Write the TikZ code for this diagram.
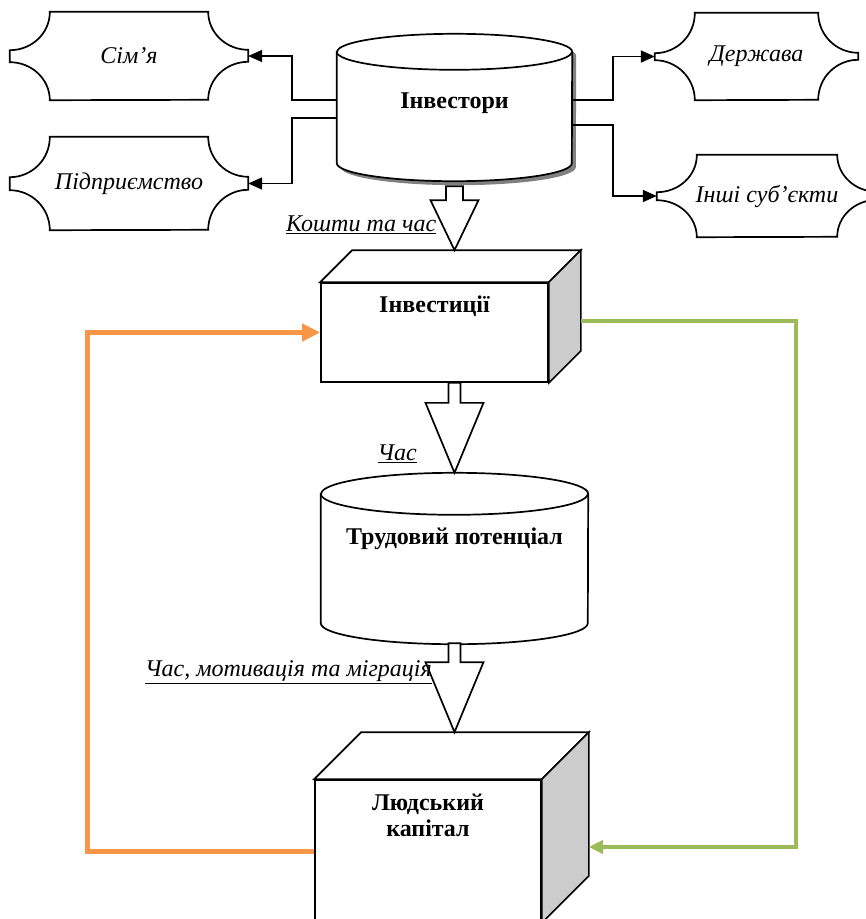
\documentclass[tikz,border=0pt]{standalone}
\usepackage{fontspec}
\setmainfont{Liberation Serif}
\usetikzlibrary{arrows.meta, calc, backgrounds}

\definecolor{loopOrange}{HTML}{F79646}
\definecolor{loopGreen}{HTML}{9BBB59}
\definecolor{sideGray}{HTML}{CCCCCC}
\definecolor{shadowGray}{HTML}{808080}

\newcommand{\bigfont}{\fontsize{24}{26}\selectfont}
% text set at the top of a shape: height, width, baseline below top, text
\newcommand{\topbox}[4]{\parbox[t][#1pt][t]{#2pt}{\centering\rule{0pt}{#3pt}#4}}
% outline of a drum round node #1 (x radius, y radius)
\newcommand{\drumpath}[3]{(#1.north west) -- (#1.south west)
  arc[start angle=180, end angle=360, x radius=#2, y radius=#3] -- (#1.north east)
  arc[start angle=0, end angle=180, x radius=#2, y radius=#3] -- cycle}
\newcommand{\drum}[3]{%
  \begin{pgfonlayer}{background}
    \draw[shape line, fill=white] \drumpath{#1}{#2}{#3};
    \draw[shape line] (#1.north west) arc[start angle=180, end angle=360, x radius=#2, y radius=#3];
  \end{pgfonlayer}}
% top and side of a box behind front face #1, depth #2
\newcommand{\cubeback}[2]{%
  \draw[shape line, fill=white] (#1.north west) -- ++(#2,#2) -- ($(#1.north east)+(#2,#2)$) -- (#1.north east) -- cycle;
  \draw[shape line, fill=sideGray] (#1.north east) -- ++(#2,#2) -- ($(#1.south east)+(#2,#2)$) -- (#1.south east) -- cycle;}
% plaque outline round node #1: corner height, notch
\newcommand{\plaque}[3]{%
  \draw[shape line] ($(#1.north west)+(40,0)$) -- ($(#1.north east)+(-40,0)$)
    arc[start angle=180, end angle=270, x radius=40, y radius=#2] -- ++(0,-#3)
    arc[start angle=90, end angle=180, x radius=40, y radius=#2]
    -- ($(#1.south west)+(40,0)$)
    arc[start angle=0, end angle=90, x radius=40, y radius=#2] -- ++(0,#3)
    arc[start angle=270, end angle=360, x radius=40, y radius=#2] -- cycle;}
% hollow arrow: start, end, stem length, stem half width, head half width
\newcommand{\fatarrow}[5]{%
  \draw[fat] ($(#1)+(-#4,0)$) -- ++(0,-#3) -- ++(#4-#5,0) -- (#1 |- #2)
    -- ($(#1)+(#5,-#3)$) -- ++(#4-#5,0) -- ++(0,#3) -- cycle;}

\begin{document}
\begin{tikzpicture}[x=1pt, y=1pt,
        shape line/.style = {line width=1.7pt},
        plaque/.style = {inner sep=0, font=\bigfont\itshape},
        body/.style = {inner sep=0, font=\bigfont\bfseries},
        face/.style = {body, draw, fill=white, line width=1.7pt},
        conn/.style = {line width=1.7pt, -{Triangle[length=14pt, width=12pt]}},
        fat/.style = {line width=1.7pt, fill=white},
        tag/.style = {inner sep=0, anchor=south east, font=\bigfont\itshape},
        back loop/.style = {loopOrange, line width=5pt, -{Triangle[length=18pt, width=17pt]}},
        fwd loop/.style = {loopGreen, line width=3.5pt, -{Triangle[length=14pt, width=13pt]}},
        ]
        \useasboundingbox (0,0) rectangle (866,-919);
        \clip (0,0) rectangle (866,-919);

        % investors and the four kinds
        \node [body] (inv) at (454.5,-107.5) {\topbox{111}{235}{56}{Інвестори}};
        \begin{pgfonlayer}{background}
            \fill[shadowGray, transform canvas={shift={(4pt,-4pt)}}] \drumpath{inv}{117.5}{18};
        \end{pgfonlayer}
        \drum{inv}{117.5}{18}

        \node [plaque, minimum width=238, minimum height=88] (simya) at (129,-56) {Сім’я};
        \node [plaque, minimum width=238, minimum height=93] (firm) at (129,-183.5) {Підприємство};
        \node [plaque, minimum width=203, minimum height=87] (state) at (756.5,-56.5) {Держава};
        \node [plaque, minimum width=220, minimum height=82] (others) at (767,-196) {Інші суб’єкти};
        \plaque{simya}{38}{12}
        \plaque{firm}{40}{13}
        \plaque{state}{40}{7}
        \plaque{others}{37}{8}

        \draw [conn] ([yshift=7.5pt]inv.west) -- ++(-45,0) |- (simya.east);
        \draw [conn] ([yshift=-10.5pt]inv.west) -- ++(-45,0) |- (firm.east);
        \draw [conn] ([yshift=7.5pt]inv.east) -- ++(41,0) |- (state.west);
        \draw [conn] ([yshift=-17.5pt]inv.east) -- ++(41,0) |- (others.west);

        % main chain
        \node [face] (invest) at (434.5,-332.5) {\topbox{99}{227}{29}{Інвестиції}};
        \cubeback{invest}{32}
        \node [body] (trud) at (454.5,-558.5) {\topbox{129}{267}{50}{Трудовий потенціал}};
        \drum{trud}{133.5}{21}
        \node [face] (hc) at (428,-851) {\topbox{142}{226}{30}{Людський\\капітал}};
        \cubeback{hc}{47}

        \coordinate (inv out) at ($(inv.south)+(0,-23)$);
        \coordinate (invest in) at ($(invest.north)+(0,32)$);
        \coordinate (invest out) at (invest.south -| trud.north);
        \coordinate (trud in) at ($(trud.north)+(0,21)$);
        \coordinate (trud out) at ($(trud.south)+(0,-20)$);
        \coordinate (hc in) at ($(hc.north)+(0,47)$);

        \fatarrow{inv out}{invest in}{14}{8.5}{24}
        \fatarrow{invest out}{trud in}{20}{6}{29}
        \fatarrow{trud out}{hc in}{19}{6}{29}

        \node [tag] (funds) at ($(inv out)+(-18,-48)$) {\underline{Кошти та час}};
        \node [tag] (time) at ($(invest out)+(-37.5,-80)$) {\underline{Час}};
        \node [tag] (moves) at ($(trud out)+(-22.5,-41)$) {\underline{Час, мотивація та міграція}};

        % feedback loops
        \draw [back loop] (hc.west) -- ++(-227,0) |- (invest.west);
        \draw [fwd loop] ([shift={(32,11.5)}]invest.east) -- ++(215,0) |- ([shift={(47,4)}]hc.east);
    \end{tikzpicture}
\end{document}
